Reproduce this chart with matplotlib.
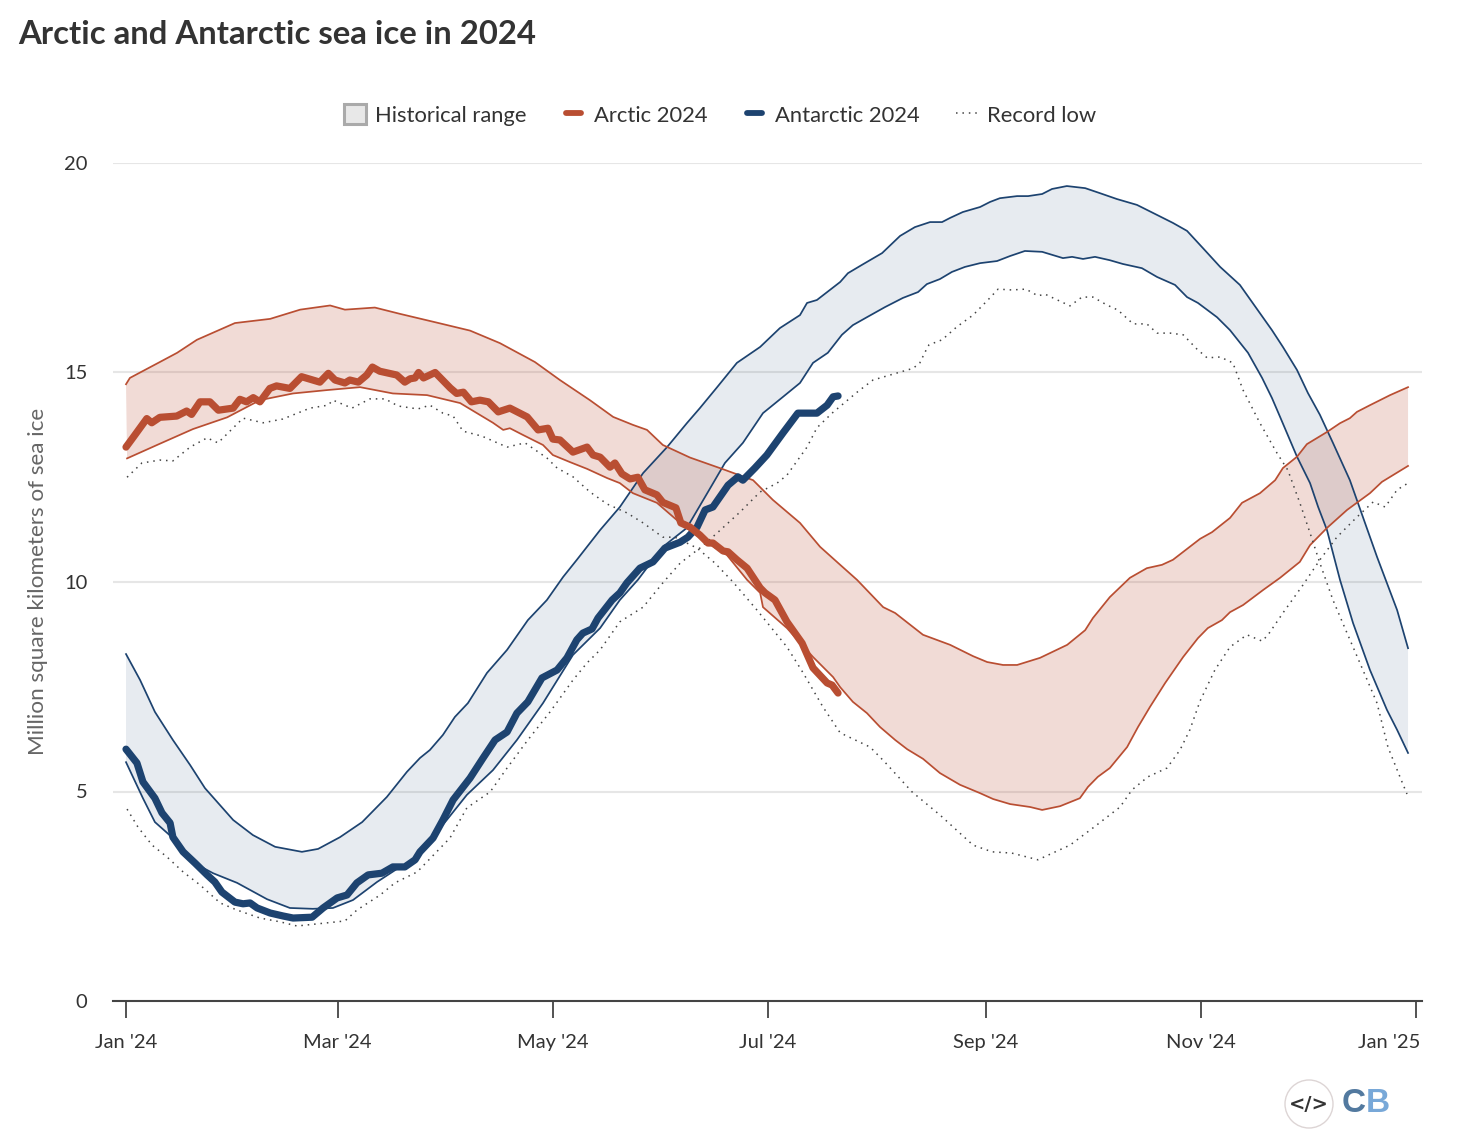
import matplotlib
matplotlib.use('Agg')
import matplotlib.pyplot as plt
from matplotlib.legend_handler import HandlerLine2D
from matplotlib.lines import Line2D
from matplotlib.patches import Patch, Ellipse
from matplotlib.transforms import offset_copy

plt.rcParams['font.family'] = ['Lato', 'DejaVu Sans']

# Days since 1 Jan 2024, values in million square km
tick_days = [0, 60, 121, 182, 244, 305, 366]
tick_labels = ["Jan '24", "Mar '24", "May '24", "Jul '24", "Sep '24", "Nov '24", "Jan '25"]
y_ticks = [0, 5, 10, 15, 20]

arctic_top_days = [0, 1.1, 4, 9.6, 14.5, 20.1, 30.9, 40.9, 49.4, 57.9, 62.1, 70.6, 77.7, 87.7, 97.6, 106.1, 116, 123.1,
                   131.6, 138.2, 143.8, 147.8, 152.3, 160, 169.1, 177.9, 183.5, 191.2, 196.9, 202.6, 207.4, 214.8,
                   218.2, 226.1, 233.8, 240.3, 244.3, 248.8, 252.8, 259.3, 267, 272.1, 274.3, 279.1, 284.8, 289.6,
                   293.9, 297, 304.7, 308.1, 313.2, 316.6, 321.7, 326, 328.2, 332.2, 335, 340.7, 344.4, 347.2, 349.2,
                   352.9, 358.6, 363.7]
arctic_top = [14.72, 14.87, 15.0, 15.25, 15.47, 15.78, 16.18, 16.28, 16.5, 16.6, 16.5, 16.55, 16.4, 16.2, 16.0, 15.7,
              15.25, 14.82, 14.34, 13.94, 13.75, 13.63, 13.27, 12.97, 12.7, 12.43, 11.96, 11.41, 10.84, 10.41, 10.05,
              9.4, 9.26, 8.74, 8.5, 8.23, 8.09, 8.02, 8.02, 8.19, 8.5, 8.85, 9.14, 9.64, 10.1, 10.33, 10.41, 10.53,
              11.03, 11.19, 11.53, 11.89, 12.12, 12.43, 12.72, 12.99, 13.29, 13.58, 13.79, 13.91, 14.06, 14.22, 14.46,
              14.65]

arctic_bot_days = [0.3, 9.6, 19, 28.7, 38, 47.4, 57, 66.4, 75.7, 85.4, 94.8, 104.1, 107, 108.9, 112.6, 118.3, 121.1,
                   126, 130.8, 136.5, 140.1, 143.8, 150.6, 157.2, 163.7, 170.5, 176.2, 179.9, 180.7, 187.5, 194.9,
                   200.6, 202.6, 206.2, 210.2, 213.9, 218.2, 221.6, 226.1, 230.9, 236.6, 242.3, 246, 250.8, 256.5,
                   259.9, 265, 270.6, 272.9, 275.7, 279.1, 284, 287.1, 290.5, 294.8, 299.9, 304.1, 306.9, 310.9, 313.2,
                   316.9, 322.6, 327.4, 333, 335.9, 340.7, 346.4, 352.9, 356.3, 363.7]
arctic_bot = [12.95, 13.3, 13.65, 13.93, 14.34, 14.5, 14.58, 14.65, 14.5, 14.46, 14.27, 13.8, 13.63, 13.67, 13.51, 13.27,
              13.03, 12.86, 12.7, 12.48, 12.36, 12.12, 11.89, 11.41, 11.0, 10.64, 10.05, 9.74, 9.4, 8.9, 8.21, 7.73,
              7.49, 7.14, 6.87, 6.54, 6.23, 6.01, 5.78, 5.44, 5.16, 4.96, 4.82, 4.7, 4.63, 4.56, 4.65, 4.84, 5.11, 5.35,
              5.56, 6.06, 6.54, 7.02, 7.59, 8.21, 8.66, 8.9, 9.09, 9.28, 9.45, 9.81, 10.1, 10.48, 10.88, 11.29, 11.72,
              12.12, 12.39, 12.77]

antarctic_top_days = [0, 4, 8.2, 13.3, 18.2, 22.4, 30.4, 36, 42.3, 49.9, 54.5, 60.7, 67, 74, 79.7, 83.4, 86.2, 89.9,
                      93.3, 97, 102.4, 108.1, 114, 119.4, 124, 127.9, 134.5, 140.1, 146.7, 153.5, 159.1, 162.8, 167.7,
                      173.3, 179.9, 185.5, 191.2, 193.2, 196, 202.6, 204.8, 208.8, 214.5, 219.6, 223.8, 228.1, 231.5,
                      233.8, 237.4, 242.3, 245.1, 247.9, 252.8, 255.9, 259.9, 262.7, 266.9, 272.1, 276.3, 281.1, 286.8,
                      292.5, 297, 301, 305.5, 310.4, 316, 325.1, 328.2, 332.2, 335.3, 338.7, 342.4, 347.2, 350.9, 354.9,
                      360.6, 363.7]
antarctic_top = [8.28, 7.66, 6.9, 6.23, 5.63, 5.08, 4.32, 3.96, 3.68, 3.56, 3.63, 3.91, 4.27, 4.87, 5.47, 5.8, 5.99,
                 6.35, 6.78, 7.11, 7.83, 8.38, 9.09, 9.57, 10.12, 10.53, 11.24, 11.79, 12.6, 13.22, 13.79, 14.15, 14.65,
                 15.23, 15.61, 16.06, 16.37, 16.66, 16.73, 17.16, 17.37, 17.57, 17.85, 18.26, 18.47, 18.59, 18.59, 18.69,
                 18.83, 18.95, 19.07, 19.16, 19.21, 19.21, 19.26, 19.38, 19.45, 19.4, 19.28, 19.14, 19.0, 18.76, 18.57,
                 18.38, 17.97, 17.52, 17.09, 16.01, 15.61, 15.06, 14.51, 13.99, 13.32, 12.43, 11.55, 10.6, 9.33, 8.42]

antarctic_bot_days = [0, 4.8, 8.2, 13.3, 18.7, 24.7, 31.5, 40, 46.5, 53, 58.7, 64.4, 71.2, 77.2, 81.4, 83.4, 91, 96.7,
                      104.1, 110.9, 118.3, 126.8, 134.5, 140.1, 145.2, 152.3, 159.1, 166.5, 169.9, 175, 180.7, 186.4,
                      191.2, 194.9, 199.1, 203.1, 206.2, 210.2, 215.3, 220.4, 224.7, 227.2, 230.9, 234.3, 238, 242.3,
                      247.1, 250.8, 255, 259.9, 265.8, 268.4, 271.5, 274.9, 279.1, 282.8, 288.2, 292.5, 297.6, 301,
                      304.1, 309.5, 313.2, 318.3, 322.3, 325.1, 327.4, 332.2, 335.9, 338.2, 340.7, 344.4, 348.1, 352.9,
                      357.7, 360.6, 363.7]
antarctic_bot = [5.7, 4.84, 4.27, 3.89, 3.32, 3.05, 2.82, 2.43, 2.22, 2.2, 2.22, 2.41, 2.84, 3.17, 3.37, 3.56, 4.32,
                 4.92, 5.51, 6.23, 7.11, 8.26, 8.9, 9.57, 10.05, 10.84, 11.29, 12.35, 12.84, 13.32, 14.03, 14.42, 14.75,
                 15.23, 15.47, 15.9, 16.13, 16.32, 16.56, 16.78, 16.92, 17.11, 17.23, 17.4, 17.52, 17.61, 17.66, 17.78,
                 17.9, 17.88, 17.73, 17.76, 17.71, 17.76, 17.68, 17.59, 17.49, 17.28, 17.09, 16.8, 16.66, 16.32, 16.01,
                 15.47, 14.87, 14.39, 13.94, 12.99, 12.36, 11.79, 11.24, 10.05, 9.02, 7.9, 6.95, 6.47, 5.92]

arctic_2024_days = [0, 2.1, 5.9, 7.3, 9.6, 14.4, 17.2, 18.6, 21, 23.8, 26.2, 30.4, 32.3, 34.2, 36.1, 38, 40.8, 42.7,
                    46.5, 49.8, 55, 57.4, 59.3, 62.1, 63.5, 65.9, 68.3, 69.9, 72, 76.8, 79.1, 80.6, 82, 83, 84.4, 87.7,
                    92, 93.8, 95.7, 98, 100.4, 102.8, 105.6, 108.9, 113.8, 116.9, 119.7, 121.1, 123.1, 126.8, 130.8,
                    132.5, 134.5, 137.3, 138.7, 140.7, 143, 145.2, 147.2, 150.6, 152.3, 156, 157.4, 160, 162.8, 165.1,
                    166.5, 169.4, 170.8, 173.3, 176.2, 179.9, 181.3, 184.1, 187.5, 191.8, 194.9, 198.9, 200.3, 202]
arctic_2024 = [13.22, 13.46, 13.9, 13.8, 13.93, 13.96, 14.08, 14.0, 14.3, 14.3, 14.1, 14.15, 14.36, 14.3, 14.4, 14.3,
               14.62, 14.68, 14.62, 14.9, 14.77, 14.98, 14.82, 14.75, 14.82, 14.77, 14.94, 15.13, 15.03, 14.94, 14.77,
               14.85, 14.87, 15.0, 14.87, 15.0, 14.63, 14.5, 14.53, 14.3, 14.34, 14.3, 14.06, 14.15, 13.94, 13.63, 13.67,
               13.41, 13.39, 13.1, 13.22, 13.03, 12.98, 12.74, 12.84, 12.58, 12.46, 12.5, 12.2, 12.08, 11.9, 11.77,
               11.41, 11.31, 11.12, 10.93, 10.93, 10.74, 10.72, 10.53, 10.33, 9.86, 9.74, 9.57, 9.05, 8.54, 7.95, 7.59,
               7.54, 7.35]

antarctic_2024_days = [0, 3.1, 4.8, 8.2, 10.2, 12.5, 13.3, 16.2, 19.6, 23, 25.2, 27.2, 30.9, 33.2, 35.2, 37.2, 40.9,
                       44.5, 47.4, 52.8, 55.9, 59.9, 62.7, 65.5, 68.7, 72.6, 75.7, 79.1, 82, 83.4, 87.1, 89.9, 92.8,
                       97.6, 101.3, 104.7, 108.1, 110.9, 114, 118, 122.3, 125.1, 127.9, 129.6, 132.2, 133.9, 137.9,
                       140.1, 142.1, 145.8, 149.5, 152.9, 157.2, 159.4, 162, 164.3, 166.5, 170.8, 173.6, 175, 178.4,
                       181.8, 186.4, 190.6, 193.2, 196, 198.9, 200.6, 202]
antarctic_2024 = [6.01, 5.68, 5.23, 4.84, 4.49, 4.25, 3.91, 3.56, 3.29, 3.01, 2.84, 2.6, 2.36, 2.32, 2.34, 2.22, 2.1,
                  2.03, 1.98, 2.0, 2.22, 2.46, 2.53, 2.82, 3.01, 3.05, 3.2, 3.2, 3.37, 3.56, 3.89, 4.32, 4.8, 5.32, 5.8,
                  6.23, 6.42, 6.87, 7.14, 7.71, 7.9, 8.19, 8.62, 8.78, 8.88, 9.14, 9.57, 9.74, 9.98, 10.33, 10.48,
                  10.81, 10.95, 11.07, 11.31, 11.72, 11.79, 12.31, 12.51, 12.43, 12.72, 13.03, 13.56, 14.03, 14.03,
                  14.03, 14.22, 14.42, 14.44]

arctic_low_days = [0.3, 4.5, 9.6, 13.3, 18.2, 23, 26.1, 33.2, 38.9, 44.5, 52.2, 57.3, 58.7, 64.1, 69.2, 73.5, 77.2, 82.8,
                   86.2, 89.9, 92.8, 95.6, 101, 108.1, 113.2, 119.4, 122.3, 126.8, 131.6, 136.5, 142.1, 146.7, 152.3,
                   155.7, 162, 167.1, 172.2, 179, 187.5, 192.1, 197.7, 202.6, 211.1, 215.3, 223, 230.9, 240.3, 245.7,
                   251.3, 258.7, 267.8, 274.3, 282, 285.4, 289.9, 295.3, 299, 301.8, 304.7, 308.9, 313.2, 318, 322.3,
                   324, 328.2, 333.9, 338.7, 343.5, 349.2, 353.8, 357.2, 360.6, 363.7]
arctic_low = [12.5, 12.84, 12.91, 12.89, 13.22, 13.44, 13.32, 13.91, 13.8, 13.89, 14.15, 14.22, 14.34, 14.15, 14.37,
              14.37, 14.2, 14.13, 14.22, 14.03, 13.96, 13.6, 13.48, 13.22, 13.32, 12.96, 12.72, 12.51, 12.15, 11.86,
              11.65, 11.41, 11.07, 11.07, 10.81, 10.45, 10.0, 9.33, 8.45, 7.83, 7.02, 6.4, 6.06, 5.7, 4.99, 4.44, 3.72,
              3.56, 3.53, 3.37, 3.72, 4.13, 4.63, 5.04, 5.35, 5.56, 5.99, 6.47, 7.16, 7.9, 8.45, 8.74, 8.59, 8.74, 9.26,
              9.93, 10.53, 11.07, 11.55, 11.91, 11.79, 12.2, 12.36]

antarctic_low_days = [0.3, 3.4, 7.4, 11.6, 16.2, 21, 26.7, 31.5, 38, 43.7, 48.5, 54.2, 62.1, 65.5, 72.1, 76.3, 82.6,
                      91.9, 96.7, 103.3, 108.1, 114, 120.3, 126.8, 130.8, 134.5, 140.1, 146.7, 152.3, 157.2, 162.8,
                      167.7, 174.2, 179.9, 184.7, 187.5, 193.2, 196, 200.3, 207.4, 211.9, 219.6, 223.3, 225.2, 226.7,
                      227.8, 231.5, 235.7, 240.3, 244.5, 247.4, 251.3, 255.3, 258.7, 260.7, 267.8, 271.2, 274.3, 278.3,
                      281.4, 285.7, 289.6, 292.5, 296.2, 299.9, 303.8, 306.7, 310.4, 314, 316.9, 321.7, 326.5, 329.6,
                      333, 335.9, 338.7, 342.4, 346.4, 350.9, 354.9, 358, 361.4, 363.4]
antarctic_low = [4.58, 4.15, 3.72, 3.44, 3.08, 2.77, 2.34, 2.17, 1.98, 1.89, 1.79, 1.84, 1.91, 2.17, 2.53, 2.82, 3.08,
                 3.89, 4.61, 4.99, 5.56, 6.23, 6.9, 7.66, 8.07, 8.38, 9.05, 9.4, 9.98, 10.45, 10.81, 11.17, 11.67, 12.15,
                 12.36, 12.55, 13.22, 13.68, 14.03, 14.53, 14.82, 15.01, 15.1, 15.23, 15.49, 15.66, 15.78, 16.09, 16.37,
                 16.73, 16.99, 16.97, 16.99, 16.83, 16.87, 16.59, 16.8, 16.8, 16.61, 16.49, 16.16, 16.16, 15.94, 15.94,
                 15.9, 15.56, 15.35, 15.37, 15.23, 14.58, 13.79, 13.08, 12.67, 11.89, 11.17, 10.45, 9.57, 8.78, 7.9,
                 7.11, 6.06, 5.35, 4.94]

RED = '#b94e32'
BLUE = '#1d4370'
DARK = '#333333'
W, H = 1474, 1148

fig = plt.figure(figsize=(W / 100, H / 100), dpi=100)
ax = fig.add_axes([113 / W, 1 - 1001 / H, (1422 - 113) / W, (1001 - 163) / H])
ax.set_xlim(-3.69, 367.66)
ax.set_ylim(0, 20)

ax.grid(axis='y', color='#e6e6e6', lw=1.5, zorder=0)
ax.set_axisbelow(True)

# bands: polygon between the upper and lower curve
ax.fill(antarctic_top_days + antarctic_bot_days[::-1], antarctic_top + antarctic_bot[::-1],
        color=BLUE, alpha=0.1, lw=0, zorder=1)
ax.fill(arctic_top_days + arctic_bot_days[::-1], arctic_top + arctic_bot[::-1],
        color=RED, alpha=0.2, lw=0, zorder=1.1)

for d, v in [(antarctic_top_days, antarctic_top), (antarctic_bot_days, antarctic_bot)]:
    ax.plot(d, v, color=BLUE, lw=1.25, zorder=2)
for d, v in [(arctic_top_days, arctic_top), (arctic_bot_days, arctic_bot)]:
    ax.plot(d, v, color=RED, lw=1.25, zorder=2)

dots = (0, (1, 3.2))
ax.plot(arctic_low_days, arctic_low, color='#444444', lw=1.1, ls=dots, zorder=3)
ax.plot(antarctic_low_days, antarctic_low, color='#444444', lw=1.1, ls=dots, zorder=3)

ax.plot(antarctic_2024_days, antarctic_2024, color=BLUE, lw=5.2, zorder=4,
        solid_capstyle='round', solid_joinstyle='round')
ax.plot(arctic_2024_days, arctic_2024, color=RED, lw=5.2, zorder=5,
        solid_capstyle='round', solid_joinstyle='round')

for s in ['top', 'right', 'left']:
    ax.spines[s].set_visible(False)
ax.spines['bottom'].set_color('#444444')
ax.spines['bottom'].set_linewidth(1.5)

ax.set_xticks(tick_days)
ax.set_xticklabels(tick_labels, fontsize=14.5, color=DARK)
ax.tick_params(axis='x', length=12, width=1.3, color='#444444', pad=11.5)
ax.set_yticks(y_ticks)
ax.tick_params(axis='y', length=0, pad=18.5, labelsize=14.5, labelcolor=DARK)

last = ax.get_xticklabels()[-1]
last.set_ha('right')
last.set_transform(offset_copy(last.get_transform(), fig=fig, x=4, y=0, units='dots'))

ax.set_ylabel('Million square kilometers of sea ice', fontsize=16.2, color='#666666')
ax.yaxis.set_label_coords((48 - 113) / (1422 - 113), (1001 - 581) / (1001 - 163))

fig.text(18 / W, 1 - 34 / H, 'Arctic and Antarctic sea ice in 2024', fontsize=23.7, fontweight='bold',
         color=DARK, va='center', ha='left')

arctic_handle = Line2D([], [], color=RED, lw=4.2, solid_capstyle='round')
antarctic_handle = Line2D([], [], color=BLUE, lw=4.2, solid_capstyle='round')
handles = [
    Patch(facecolor='#e8e8e8', edgecolor='#aaaaaa', lw=2.2),
    arctic_handle,
    antarctic_handle,
    Line2D([], [], color='#444444', lw=1.1, ls=dots),
]
short_line = HandlerLine2D(numpoints=2, marker_pad=0.15)
fig.legend(handles, ['Historical range', 'Arctic 2024', 'Antarctic 2024', 'Record low'],
           loc='center', bbox_to_anchor=(720 / W, 1 - 115 / H), ncol=4, frameon=False,
           fontsize=15.8, labelcolor=DARK, handlelength=1.0, handleheight=1.0,
           handletextpad=0.42, columnspacing=1.65,
           handler_map={arctic_handle: short_line, antarctic_handle: short_line})

# logos bottom right
fig.add_artist(Ellipse((1309 / W, 1 - 1104 / H), 48 / W, 48 / H, transform=fig.transFigure,
                       facecolor='white', edgecolor='#ddd5d5', lw=1))
fig.text(1309 / W, 1 - 1104 / H, '</>', fontsize=14, fontweight='bold', color=DARK,
         ha='center', va='center', family='DejaVu Sans')
fig.text(1366 / W, 1 - 1104 / H, 'C', fontsize=24, fontweight='bold', color='#52799f',
         ha='right', va='center', family='Liberation Sans')
fig.text(1366 / W, 1 - 1104 / H, 'B', fontsize=24, fontweight='bold', color='#78a8d8',
         ha='left', va='center', family='Liberation Sans')

fig.savefig('out.png', dpi=100)
